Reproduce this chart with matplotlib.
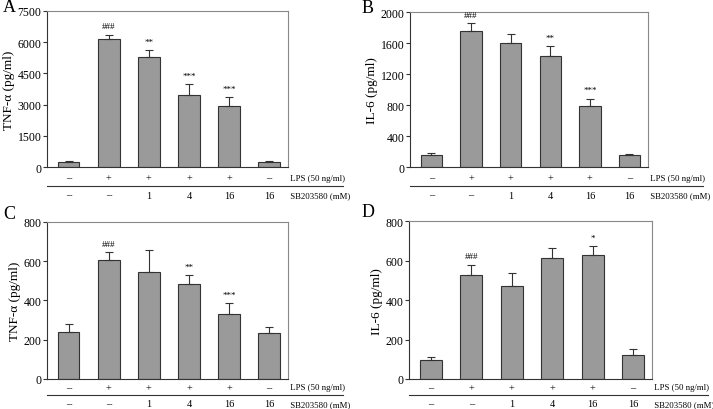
import matplotlib
matplotlib.use('Agg')
import matplotlib.pyplot as plt
from matplotlib.lines import Line2D
from matplotlib.transforms import ScaledTranslation

plt.rcParams['font.family'] = ['Liberation Serif', 'DejaVu Serif']

# shared row labels under each panel
lps = ['\u2013', '+', '+', '+', '+', '\u2013']
sb = ['\u2013', '\u2013', '1', '4', '16', '16']

# panel A: TNF-alpha
a_vals = [240, 6150, 5280, 3460, 2930, 240]
a_err = [30, 190, 320, 510, 430, 30]
a_marks = ['', '###', '**', '***', '***', '']

# panel B: IL-6
b_vals = [150, 1760, 1600, 1430, 790, 150]
b_err = [30, 95, 115, 130, 90, 18]
b_marks = ['', '###', '', '**', '***', '']

# panel C: TNF-alpha
c_vals = [238, 608, 545, 485, 332, 235]
c_err = [40, 37, 112, 44, 54, 32]
c_marks = ['', '###', '', '**', '***', '']

# panel D: IL-6
d_vals = [97, 527, 471, 614, 627, 124]
d_err = [13, 51, 68, 52, 46, 27]
d_marks = ['', '###', '', '', '*', '']

top_rows = (11, 19, 28)
bot_rows = (8.5, 16.5, 25)

panels = [
    ('A', a_vals, a_err, a_marks, 'TNF-\u03b1 (pg/ml)', 7500, 1500, [0.0659, 0.590, 0.338, 0.381], (0.013, 0.981), top_rows),
    ('B', b_vals, b_err, b_marks, 'IL-6 (pg/ml)', 2000, 400, [0.575, 0.590, 0.334, 0.378], (0.516, 0.980), top_rows),
    ('C', c_vals, c_err, c_marks, 'TNF-\u03b1 (pg/ml)', 800, 200, [0.0659, 0.0732, 0.338, 0.383], (0.013, 0.478), bot_rows),
    ('D', d_vals, d_err, d_marks, 'IL-6 (pg/ml)', 800, 200, [0.5736, 0.0732, 0.341, 0.385], (0.516, 0.481), bot_rows),
]

fig = plt.figure(figsize=(7.13, 4.10), dpi=100)

def below(ax, px):
    # shift down from the axes bottom by a fixed number of pixels
    return ax.transAxes + ScaledTranslation(0, -px / 100, fig.dpi_scale_trans)

for letter, vals, err, marks, ylabel, ymax, step, pos, lpos, rows in panels:
    ax = fig.add_axes(pos)
    x = list(range(len(vals)))
    ax.bar(x, vals, width=0.54, color='#9a9a9a', edgecolor='#333333', linewidth=0.8)
    ax.errorbar(x, vals, yerr=[[0] * len(err), err], fmt='none', ecolor='#333333',
                elinewidth=0.8, capsize=3, capthick=0.8)
    for xi, v, e, m in zip(x, vals, err, marks):
        if m:
            ax.text(xi, v + e + ymax * 0.03, m, ha='center', va='bottom', fontsize=6.5)
    ax.set_xlim(-0.54, 5.47)
    ax.set_ylim(0, ymax)
    ax.set_yticks(range(0, ymax + 1, step))
    ax.set_xticks([])
    ax.tick_params(axis='y', labelsize=8.5, length=3, width=0.8, pad=1, color='#333333')
    ax.set_ylabel(ylabel, fontsize=9.5, labelpad=2)
    for side in ['top', 'right']:
        ax.spines[side].set_color('#888888')
        ax.spines[side].set_linewidth(0.8)
    for side in ['left', 'bottom']:
        ax.spines[side].set_color('#333333')
        ax.spines[side].set_linewidth(0.8)

    tr_lps = below(ax, rows[0])
    tr_sb = below(ax, rows[2])
    for xi, p, s in zip(x, lps, sb):
        xa = (xi + 0.54) / 6.01
        ax.text(xa, 0, p, transform=tr_lps, ha='center', va='center', fontsize=7.5)
        ax.text(xa, 0, s, transform=tr_sb, ha='center', va='center', fontsize=7.5)
    ax.text(1.0, 0, ' LPS (50 ng/ml)', transform=tr_lps, ha='left', va='center', fontsize=6.3)
    ax.text(1.0, 0, ' SB203580 (mM)', transform=tr_sb, ha='left', va='center', fontsize=6.3)
    ax.add_line(Line2D([0, 1.23], [0, 0], transform=below(ax, rows[1]), color='#333333',
                       linewidth=0.8, clip_on=False))

    fig.text(lpos[0], lpos[1], letter, fontsize=13, ha='center', va='center')

fig.savefig('out.png', dpi=100)
